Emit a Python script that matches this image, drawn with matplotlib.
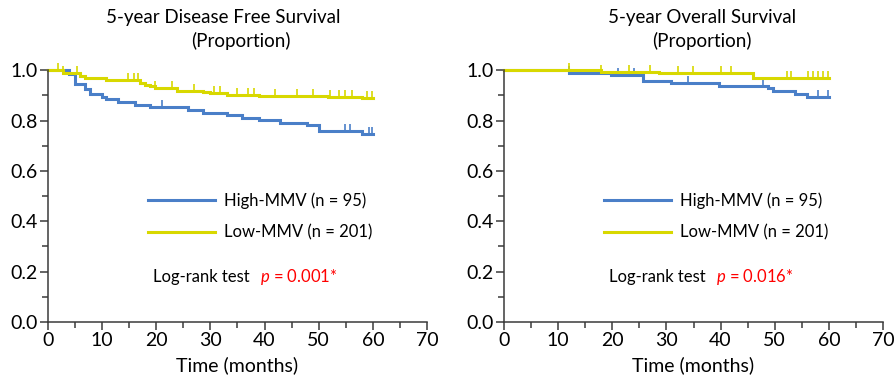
import numpy as np
import matplotlib
matplotlib.use('Agg')
import matplotlib.pyplot as plt

plt.rcParams['font.family'] = ['Lato', 'DejaVu Sans']
plt.rcParams['mathtext.fontset'] = 'custom'
plt.rcParams['mathtext.it'] = 'Lato:italic'
plt.rcParams['mathtext.rm'] = 'Lato'

BLUE = '#4a7fc8'
YELLOW = '#d8d800'
AXC = '#3a3a3a'

# Disease free survival, step times (months) and survival proportion
dfs_high_t = [0, 3.8, 5.0, 6.8, 7.8, 9.9, 10.8, 13.0, 16.1, 18.9, 25.9, 28.7,
              33.0, 35.8, 38.9, 42.9, 47.8, 50.0, 58.0]
dfs_high_s = [1.0, 0.984, 0.947, 0.927, 0.907, 0.894, 0.884, 0.874, 0.864, 0.854,
              0.841, 0.831, 0.821, 0.812, 0.802, 0.791, 0.781, 0.759, 0.746]
dfs_high_cens = [21.0, 54.9, 55.8, 59.2, 59.8]

dfs_low_t = [0, 2.8, 5.9, 6.8, 10.8, 17.0, 17.9, 18.9, 19.8, 23.8, 28.7, 29.9,
             33.0, 38.9, 51.8, 58.0]
dfs_low_s = [1.0, 0.99, 0.979, 0.971, 0.960, 0.951, 0.943, 0.937, 0.929, 0.919,
             0.913, 0.909, 0.903, 0.898, 0.893, 0.888]
dfs_low_cens = [1.9, 2.8, 5.3, 14.8, 15.8, 16.7, 19.8, 22.9, 26.9, 30.6, 31.8,
                34.9, 37.0, 38.0, 42.0, 46.0, 49.0, 52.1, 53.7, 54.9, 56.1, 58.9, 59.8]

# Overall survival
os_high_t = [0, 12.0, 19.8, 25.6, 30.9, 39.8, 48.8, 49.7, 53.7, 55.9]
os_high_s = [1.0, 0.991, 0.982, 0.959, 0.950, 0.939, 0.930, 0.916, 0.905, 0.894]
os_high_cens = [12.0, 21.0, 24.1, 33.9, 47.8, 58.0, 59.9]

os_low_t = [0, 17.9, 28.7, 45.9]
os_low_s = [1.0, 0.995, 0.991, 0.971]
os_low_cens = [12.0, 17.9, 23.1, 27.0, 32.1, 34.9, 40.0, 42.0, 52.2, 53.0,
               56.2, 57.1, 58.0, 59.0, 59.9]

t_end = 60
labels = ['High-MMV (n = 95)', 'Low-MMV (n = 201)']
pvals = ['0.001*', '0.016*']
titles = ['5-year Disease Free Survival', '5-year Overall Survival']


def km(ax, t, s, cens, color, label):
    tt = np.append(t, t_end)
    ss = np.append(s, s[-1])
    ax.step(tt, ss, where='post', color=color, lw=2.2, label=label,
            solid_joinstyle='miter')
    idx = np.searchsorted(t, cens, side='right') - 1
    ax.plot(cens, np.array(s)[idx], ls='none', marker=2, ms=5, mew=1.2,
            color=color)


fig = plt.figure(figsize=(8.94, 3.87), dpi=100)
ax1 = fig.add_axes([48/894, 65/387, 379/894, 251.7/387])
ax2 = fig.add_axes([504/894, 65/387, 379/894, 251.7/387])

km(ax1, dfs_high_t, dfs_high_s, dfs_high_cens, BLUE, labels[0])
km(ax1, dfs_low_t, dfs_low_s, dfs_low_cens, YELLOW, labels[1])
km(ax2, os_high_t, os_high_s, os_high_cens, BLUE, labels[0])
km(ax2, os_low_t, os_low_s, os_low_cens, YELLOW, labels[1])

for i, ax in enumerate([ax1, ax2]):
    ax.set_xlim(0, 70)
    ax.set_ylim(0, 1.0)
    ax.set_xticks(np.arange(0, 71, 10))
    ax.set_xticks(np.arange(5, 70, 10), minor=True)
    ax.set_yticks(np.arange(0, 1.01, 0.2))
    ax.set_yticks(np.arange(0.1, 1.0, 0.2), minor=True)
    ax.set_yticklabels(['%.1f' % v for v in np.arange(0, 1.01, 0.2)])
    ax.spines['top'].set_visible(False)
    ax.spines['right'].set_visible(False)
    for sp in ['left', 'bottom']:
        ax.spines[sp].set_color(AXC)
        ax.spines[sp].set_linewidth(1.1)
    ax.tick_params(which='major', length=5.5, width=1.1, color=AXC,
                   labelsize=14, pad=2)
    ax.tick_params(which='minor', length=4, width=1.1, color=AXC)
    ax.set_xlabel('Time (months)', fontsize=14, labelpad=5)
    for ln in ax.lines:
        ln.set_clip_on(False)

    ax.legend(loc='center left', bbox_to_anchor=(0.225, 0.42), frameon=False,
              handlelength=4.0, handletextpad=0.55, labelspacing=0.95,
              fontsize=12)
    ax.text(0.277, 0.18, 'Log-rank test', transform=ax.transAxes,
            fontsize=12, va='center')
    ax.text(0.56, 0.18, '$\\mathit{p}$ = ' + pvals[i], transform=ax.transAxes,
            fontsize=12, va='center', color='red')

fig.text(223/894, 1 - 18/387, titles[0], ha='center', va='center', fontsize=13.5)
fig.text(241/894, 1 - 41/387, '(Proportion)', ha='center', va='center', fontsize=13.5)
fig.text(702/894, 1 - 18/387, titles[1], ha='center', va='center', fontsize=13.5)
fig.text(702/894, 1 - 41/387, '(Proportion)', ha='center', va='center', fontsize=13.5)

plt.savefig('out.png', dpi=100)
